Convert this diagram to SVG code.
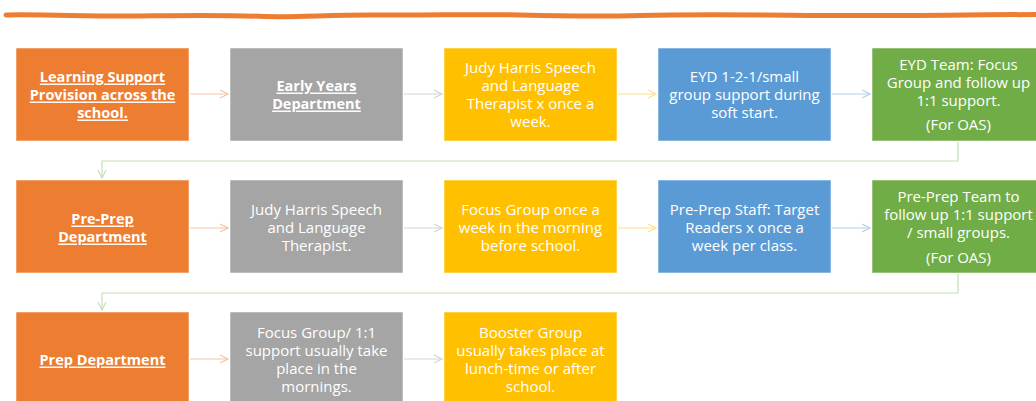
<svg xmlns="http://www.w3.org/2000/svg" width="1036" height="401" viewBox="0 0 1036 401">
  <style>
    .box { stroke: #ffffff; stroke-opacity: 0.55; stroke-width: 1; }
    .orange { fill: #ED7D31; }
    .gray { fill: #A5A5A5; }
    .yellow { fill: #FFC000; }
    .blue { fill: #5B9BD5; }
    .green { fill: #70AD47; }
    text { font-family: "Open Sans", Lato, "Liberation Sans", sans-serif; font-size: 15px; fill: #ffffff; text-anchor: middle; dominant-baseline: central; }
    .head { font-size: 14.5px; font-weight: bold; text-decoration: underline; }
    .link { fill: none; stroke-width: 1.2; }
  </style>
  <defs>
    <marker id="ah-orange" viewBox="0 0 10 10" refX="9" refY="5" markerWidth="10" markerHeight="10" markerUnits="userSpaceOnUse" orient="auto">
      <polyline points="1,1 9,5 1,9" fill="none" stroke="#F6C3A4" stroke-width="1.2"/>
    </marker>
    <marker id="ah-gray" viewBox="0 0 10 10" refX="9" refY="5" markerWidth="10" markerHeight="10" markerUnits="userSpaceOnUse" orient="auto">
      <polyline points="1,1 9,5 1,9" fill="none" stroke="#D6D6D6" stroke-width="1.2"/>
    </marker>
    <marker id="ah-yellow" viewBox="0 0 10 10" refX="9" refY="5" markerWidth="10" markerHeight="10" markerUnits="userSpaceOnUse" orient="auto">
      <polyline points="1,1 9,5 1,9" fill="none" stroke="#FFE08A" stroke-width="1.2"/>
    </marker>
    <marker id="ah-blue" viewBox="0 0 10 10" refX="9" refY="5" markerWidth="10" markerHeight="10" markerUnits="userSpaceOnUse" orient="auto">
      <polyline points="1,1 9,5 1,9" fill="none" stroke="#B4D0EC" stroke-width="1.2"/>
    </marker>
    <marker id="ah-green" viewBox="0 0 10 10" refX="9" refY="5" markerWidth="10" markerHeight="10" markerUnits="userSpaceOnUse" orient="auto">
      <polyline points="1,1 9,5 1,9" fill="none" stroke="#C5E0B4" stroke-width="1.2"/>
    </marker>
  </defs>

  <!-- hand-drawn rule across the top -->
  <path d="M6,15 C40,14 90,16.5 130,16 C180,15.5 220,14.5 265,16.5 C300,17.5 330,14.5 380,15 C430,15.5 470,14 520,15 C560,16 600,16.5 640,15.5 C700,14 760,15 820,15.5 C880,16 940,15 1040,14.5" fill="none" stroke="#ED7D31" stroke-width="5" stroke-linecap="round"/>

  <!-- connectors -->
  <g id="connectors">
    <line class="link" x1="190" y1="94" x2="228" y2="94" stroke="#F6C3A4" marker-end="url(#ah-orange)"/>
    <line class="link" x1="404" y1="94" x2="442" y2="94" stroke="#D6D6D6" marker-end="url(#ah-gray)"/>
    <line class="link" x1="618" y1="94" x2="656" y2="94" stroke="#FFE08A" marker-end="url(#ah-yellow)"/>
    <line class="link" x1="832" y1="94" x2="870" y2="94" stroke="#B4D0EC" marker-end="url(#ah-blue)"/>
    <polyline class="link" points="958,142 958,161 102,161 102,178" stroke="#C5E0B4" marker-end="url(#ah-green)"/>

    <line class="link" x1="190" y1="228" x2="228" y2="228" stroke="#F6C3A4" marker-end="url(#ah-orange)"/>
    <line class="link" x1="404" y1="228" x2="442" y2="228" stroke="#D6D6D6" marker-end="url(#ah-gray)"/>
    <line class="link" x1="618" y1="228" x2="656" y2="228" stroke="#FFE08A" marker-end="url(#ah-yellow)"/>
    <line class="link" x1="832" y1="228" x2="870" y2="228" stroke="#B4D0EC" marker-end="url(#ah-blue)"/>
    <polyline class="link" points="958,274 958,293 102,293 102,310" stroke="#C5E0B4" marker-end="url(#ah-green)"/>

    <line class="link" x1="190" y1="359" x2="228" y2="359" stroke="#F6C3A4" marker-end="url(#ah-orange)"/>
    <line class="link" x1="404" y1="359" x2="442" y2="359" stroke="#D6D6D6" marker-end="url(#ah-gray)"/>
  </g>

  <!-- row 1: Early Years -->
  <g id="learning-support">
    <rect class="box orange" x="16" y="48" width="173" height="93"/>
    <text class="head" x="102.5" y="76">Learning Support</text>
    <text class="head" x="102.5" y="94">Provision across the</text>
    <text class="head" x="102.5" y="112">school.</text>
  </g>
  <g id="early-years">
    <rect class="box gray" x="230" y="48" width="173" height="93"/>
    <text class="head" x="316.5" y="85">Early Years</text>
    <text class="head" x="316.5" y="103">Department</text>
  </g>
  <g id="eyd-therapist">
    <rect class="box yellow" x="444" y="48" width="173" height="93"/>
    <text x="530.5" y="67">Judy Harris Speech</text>
    <text x="530.5" y="85">and Language</text>
    <text x="530.5" y="103">Therapist x once a</text>
    <text x="530.5" y="121">week.</text>
  </g>
  <g id="eyd-small-group">
    <rect class="box blue" x="658" y="48" width="173" height="93"/>
    <text x="744.5" y="76">EYD 1-2-1/small</text>
    <text x="744.5" y="94">group support during</text>
    <text x="744.5" y="112">soft start.</text>
  </g>
  <g id="eyd-team">
    <rect class="box green" x="872" y="48" width="173" height="93"/>
    <text x="958.5" y="64">EYD Team: Focus</text>
    <text x="958.5" y="82">Group and follow up</text>
    <text x="958.5" y="100">1:1 support.</text>
    <text x="958.5" y="124">(For OAS)</text>
  </g>

  <!-- row 2: Pre-Prep -->
  <g id="pre-prep">
    <rect class="box orange" x="16" y="180" width="173" height="93"/>
    <text class="head" x="102.5" y="218">Pre-Prep</text>
    <text class="head" x="102.5" y="236">Department</text>
  </g>
  <g id="pp-therapist">
    <rect class="box gray" x="230" y="180" width="173" height="93"/>
    <text x="316.5" y="209">Judy Harris Speech</text>
    <text x="316.5" y="227">and Language</text>
    <text x="316.5" y="245">Therapist.</text>
  </g>
  <g id="pp-focus-group">
    <rect class="box yellow" x="444" y="180" width="173" height="93"/>
    <text x="530.5" y="209">Focus Group once a</text>
    <text x="530.5" y="227">week in the morning</text>
    <text x="530.5" y="245">before school.</text>
  </g>
  <g id="pp-staff">
    <rect class="box blue" x="658" y="180" width="173" height="93"/>
    <text x="744.5" y="209">Pre-Prep Staff: Target</text>
    <text x="744.5" y="227">Readers x once a</text>
    <text x="744.5" y="245">week per class.</text>
  </g>
  <g id="pp-team">
    <rect class="box green" x="872" y="180" width="173" height="93"/>
    <text x="958.5" y="196">Pre-Prep Team to</text>
    <text x="958.5" y="214">follow up 1:1 support</text>
    <text x="958.5" y="232">/ small groups.</text>
    <text x="958.5" y="257">(For OAS)</text>
  </g>

  <!-- row 3: Prep -->
  <g id="prep">
    <rect class="box orange" x="16" y="312" width="173" height="93"/>
    <text class="head" x="102.5" y="359">Prep Department</text>
  </g>
  <g id="prep-focus-group">
    <rect class="box gray" x="230" y="312" width="173" height="93"/>
    <text x="316.5" y="332">Focus Group/ 1:1</text>
    <text x="316.5" y="350">support usually take</text>
    <text x="316.5" y="368">place in the</text>
    <text x="316.5" y="386">mornings.</text>
  </g>
  <g id="prep-booster">
    <rect class="box yellow" x="444" y="312" width="173" height="93"/>
    <text x="530.5" y="332">Booster Group</text>
    <text x="530.5" y="350">usually takes place at</text>
    <text x="530.5" y="368">lunch-time or after</text>
    <text x="530.5" y="386">school.</text>
  </g>
</svg>
